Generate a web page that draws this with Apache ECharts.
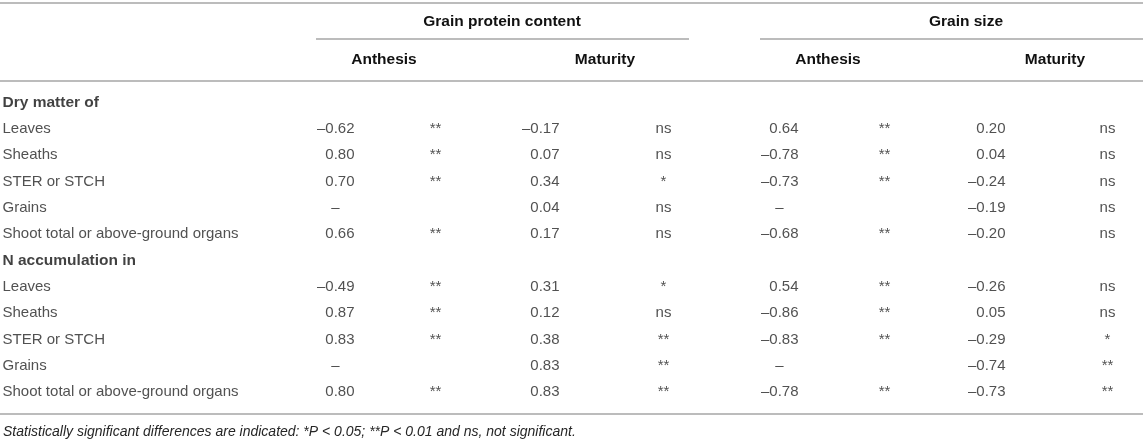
<!DOCTYPE html>
<html lang="en">
<head>
  <meta charset="utf-8">
  <style>
    body {
      margin: 0;
      background: #fff;
    }

    #table_chart {
      width: 1143px;
      height: 442px;
    }
  </style>
</head>
<body>
  <div id="table_chart"></div>
  <script type="text/javascript" src="https://cdn.jsdelivr.net/npm/echarts@6/dist/echarts.min.js"></script>
  <script type="text/javascript">
    // row labels, section headings are rows 0 and 6
    const rowLabels = [
      'Dry matter of',
      'Leaves',
      'Sheaths',
      'STER or STCH',
      'Grains',
      'Shoot total or above-ground organs',
      'N accumulation in',
      'Leaves',
      'Sheaths',
      'STER or STCH',
      'Grains',
      'Shoot total or above-ground organs'
    ];
    const sectionRows = [0, 6];

    // grain protein content
    const gpcAnthesis = [null, -0.62, 0.80, 0.70, null, 0.66, null, -0.49, 0.87, 0.83, null, 0.80];
    const gpcAnthesisSig = ['', '**', '**', '**', '', '**', '', '**', '**', '**', '', '**'];
    const gpcMaturity = [null, -0.17, 0.07, 0.34, 0.04, 0.17, null, 0.31, 0.12, 0.38, 0.83, 0.83];
    const gpcMaturitySig = ['', 'ns', 'ns', '*', 'ns', 'ns', '', '*', 'ns', '**', '**', '**'];

    // grain size
    const gsAnthesis = [null, 0.64, -0.78, -0.73, null, -0.68, null, 0.54, -0.86, -0.83, null, -0.78];
    const gsAnthesisSig = ['', '**', '**', '**', '', '**', '', '**', '**', '**', '', '**'];
    const gsMaturity = [null, 0.20, 0.04, -0.24, -0.19, -0.20, null, -0.26, 0.05, -0.29, -0.74, -0.73];
    const gsMaturitySig = ['', 'ns', 'ns', 'ns', 'ns', 'ns', '', 'ns', 'ns', '*', '**', '**'];

    const groupTitles = ['Grain protein content', 'Grain size'];
    const stageTitles = ['Anthesis', 'Maturity', 'Anthesis', 'Maturity'];
    const footnote = 'Statistically significant differences are indicated: *P < 0.05; **P < 0.01 and ns, not significant.';

    // layout of the table (pixels)
    var W = 1143;
    var font = '"Liberation Sans", Arial, Helvetica, sans-serif';
    var textColor = '#262626';
    var ruleColor = '#a6a6a6';
    var labelX = 3;
    // value right edge, significance centre, heading centre for each column pair
    var columns = [
      { values: gpcAnthesis, sig: gpcAnthesisSig, valueX: 355, sigX: 436, headX: 384 },
      { values: gpcMaturity, sig: gpcMaturitySig, valueX: 560, sigX: 664, headX: 605 },
      { values: gsAnthesis, sig: gsAnthesisSig, valueX: 799, sigX: 885, headX: 828 },
      { values: gsMaturity, sig: gsMaturitySig, valueX: 1006, sigX: 1108, headX: 1055 }
    ];
    var groups = [
      { x1: 316, x2: 689, headX: 502 },
      { x1: 760, x2: W, headX: 966 }
    ];

    function fmt(v) {
      return v.toFixed(2).replace('-', '\u2013');
    }

    function isSection(i) {
      return sectionRows.indexOf(i) >= 0;
    }

    var baseLabel = {
      show: true,
      position: [0, 0],
      verticalAlign: 'middle',
      fontFamily: font,
      fontSize: 15,
      color: textColor
    };

    function textSeries(data, align) {
      return {
        type: 'scatter',
        symbolSize: 1,
        itemStyle: { color: 'rgba(0,0,0,0)' },
        silent: true,
        label: Object.assign({}, baseLabel, {
          align: align,
          formatter: function (p) { return p.data.text; }
        }),
        data: data
      };
    }

    var series = [];

    // row labels
    series.push(textSeries(rowLabels.map(function (name, i) {
      var item = { value: [labelX, i], text: name };
      if (isSection(i)) {
        item.label = { fontWeight: 'bold', fontSize: 15.5, color: '#111' };
      }
      return item;
    }), 'left'));

    columns.forEach(function (col) {
      var vals = [];
      var dashes = [];
      var sigs = [];
      rowLabels.forEach(function (name, i) {
        if (isSection(i)) return;
        if (col.values[i] === null) {
          dashes.push({ value: [col.valueX - 19, i], text: '\u2013' });
        } else {
          vals.push({ value: [col.valueX, i], text: fmt(col.values[i]) });
        }
        if (col.sig[i]) {
          sigs.push({ value: [col.sigX, i], text: col.sig[i] });
        }
      });
      series.push(textSeries(vals, 'right'));
      series.push(textSeries(dashes, 'center'));
      series.push(textSeries(sigs, 'center'));
    });

    // header texts and rules
    var graphic = [];
    function rule(x1, x2, y) {
      graphic.push({
        type: 'line',
        silent: true,
        shape: { x1: x1, y1: y, x2: x2, y2: y },
        style: { stroke: ruleColor, lineWidth: 1.5 }
      });
    }
    function headText(text, x, y) {
      graphic.push({
        type: 'text',
        silent: true,
        x: x,
        y: y,
        style: {
          text: text,
          align: 'center',
          verticalAlign: 'middle',
          font: 'bold 15.5px ' + font,
          fill: '#111'
        }
      });
    }
    rule(0, W, 3);
    groups.forEach(function (g, i) {
      headText(groupTitles[i], g.headX, 22);
      rule(g.x1, g.x2, 39);
    });
    columns.forEach(function (c, i) {
      headText(stageTitles[i], c.headX, 60);
    });
    rule(0, W, 81);
    rule(0, W, 414);
    graphic.push({
      type: 'text',
      silent: true,
      x: labelX,
      y: 432,
      style: {
        text: footnote,
        align: 'left',
        verticalAlign: 'middle',
        font: 'italic 14px ' + font,
        fill: textColor
      }
    });

    var chart = echarts.init(document.getElementById('table_chart'), null, { renderer: 'canvas' });
    var option = {
      animation: false,
      grid: {
        left: 0,
        right: 0,
        top: 90,
        height: 316
      },
      xAxis: {
        type: 'value',
        min: 0,
        max: W,
        show: false
      },
      yAxis: {
        type: 'category',
        inverse: true,
        data: rowLabels.map(function (n, i) { return i + ''; }),
        show: false
      },
      graphic: graphic,
      series: series
    };
    chart.setOption(option);
    window.addEventListener('resize', chart.resize);
  </script>
</body>
</html>
